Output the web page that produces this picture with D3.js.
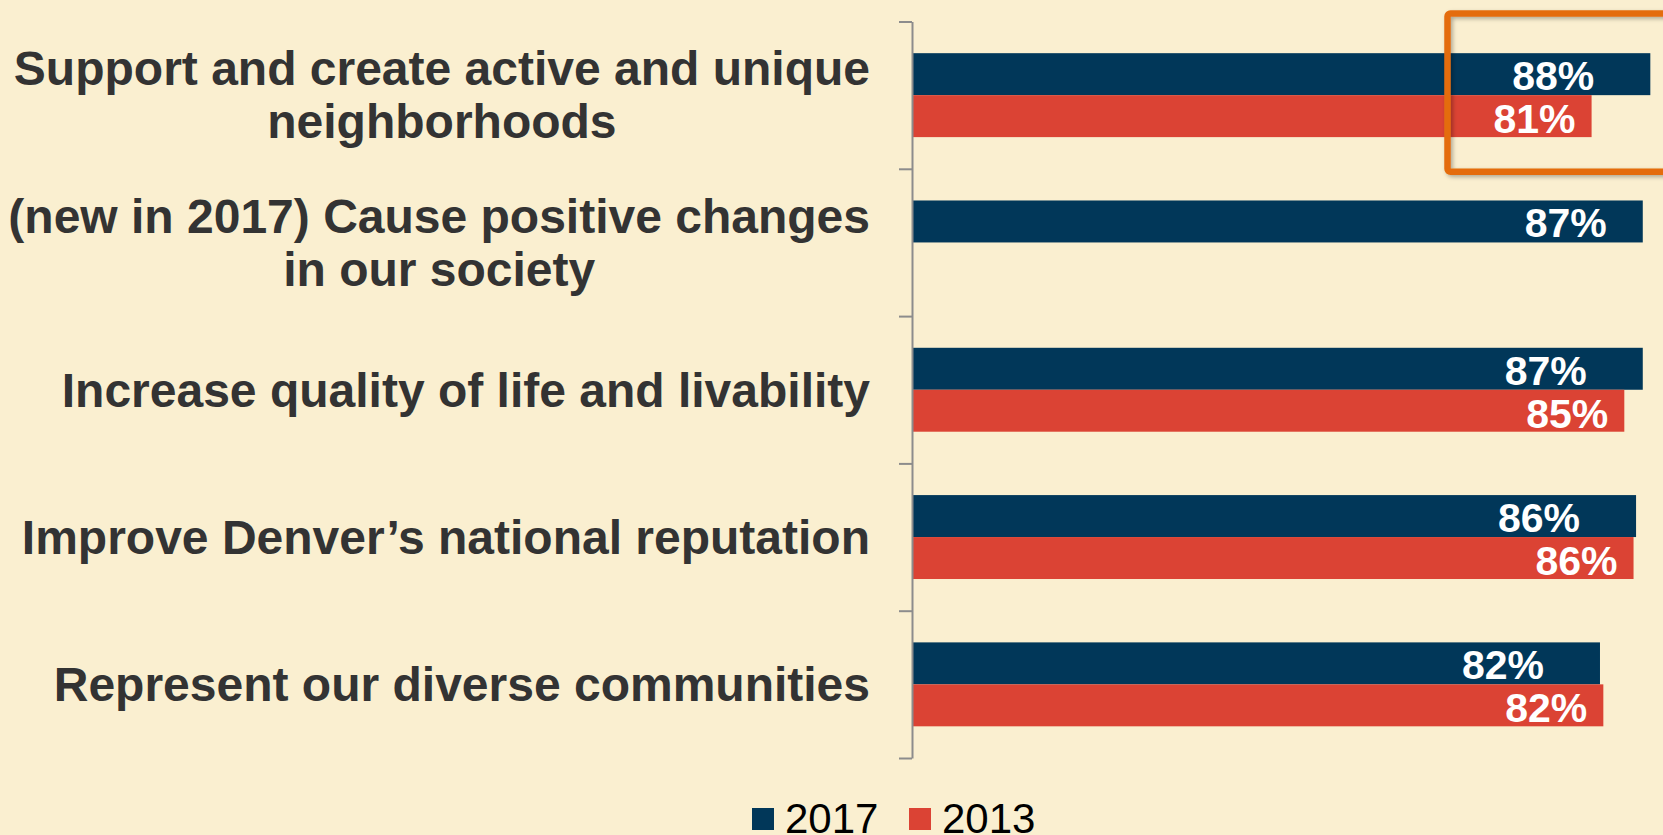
<!DOCTYPE html>
<html>
<head>
<meta charset="utf-8">
<script src="https://cdn.jsdelivr.net/npm/d3@7"></script>
<style>
  html, body { margin: 0; padding: 0; background: #FAEFD0; }
  svg { display: block; font-family: "Liberation Sans", Arial, sans-serif; }
</style>
</head>
<body>
<svg id="chart" width="1663" height="835"></svg>
<script>
// categories, top to bottom; each entry holds the wrapped lines of the label
const categories = [
	["Support and create active and unique", "neighborhoods"],
	["(new in 2017) Cause positive changes", "in our society"],
	["Increase quality of life and livability"],
	["Improve Denver\u2019s national reputation"],
	["Represent our diverse communities"]
];
const seriesNames = ["2017", "2013"];
const values2017 = [88.0, 87.1, 87.1, 86.3, 82.0];
const values2013 = [81.0, null, 84.9, 86.0, 82.4];
const seriesColors = ["#013759", "#DB4334"];

const svg = d3.select("#chart");
const W = 1663, H = 835;
svg.append("rect").attr("width", W).attr("height", H).attr("fill", "#FAEFD0");

const axisX = 912,
	plotTop = 21.5,
	plotBottom = 758;

const x = d3.scaleLinear().domain([0, 100]).range([axisX, axisX + 839]);
const y0 = d3.scaleBand().domain(d3.range(categories.length)).range([plotTop, plotBottom]).padding(0);
const y1 = d3.scaleBand().domain(seriesNames).range([0, y0.bandwidth()]).paddingInner(0).paddingOuter(0.755);

const rows = categories.map((c, i) => ({
	i: i,
	lines: c,
	bars: [values2017[i], values2013[i]].map((v, j) => ({ series: seriesNames[j], value: v, color: seriesColors[j] }))
		.filter(b => b.value !== null)
}));

// bars
const g = svg.append("g");
const groups = g.selectAll("g.row").data(rows).enter().append("g")
	.attr("class", "row")
	.attr("transform", d => "translate(0," + y0(d.i) + ")");

groups.selectAll("rect").data(d => d.bars).enter().append("rect")
	.attr("x", x(0))
	.attr("y", d => y1(d.series))
	.attr("width", d => x(d.value) - x(0))
	.attr("height", y1.bandwidth())
	.attr("fill", d => d.color);

// value labels, white bold inside the bar end
const fmt = v => Math.round(v) + "%";
groups.each(function(row) {
	const single = row.bars.length === 1;
	d3.select(this).selectAll("text.val").data(row.bars).enter().append("text")
		.attr("class", "val")
		.attr("x", d => x(d.value) - (d.series === "2013" ? 16 : (single ? 36 : 56)))
		.attr("y", d => y1(d.series) + y1.bandwidth() / 2 + (d.series === "2013" ? 17 : 16))
		.attr("text-anchor", "end")
		.attr("fill", "#fff")
		.attr("font-weight", "bold")
		.attr("font-size", 41)
		.text(d => fmt(d.value));
});

// category axis, ticks at the band edges
const yEdges = d3.scaleLinear().domain([0, categories.length]).range([plotTop, plotBottom]);
const axis = svg.append("g")
	.attr("transform", "translate(" + axisX + ",0)")
	.call(d3.axisLeft(yEdges).ticks(categories.length).tickFormat("").tickSize(13).tickSizeOuter(0));
axis.select(".domain").attr("stroke", "#8c8c8c").attr("stroke-width", 2);
axis.selectAll(".tick line").attr("stroke", "#8c8c8c").attr("stroke-width", 2);

// category labels: wrapped lines centred as a block, block right-aligned
const labelRight = 870, fs = 48, lh = 53;
rows.forEach(row => {
	const t = svg.append("g");
	const n = row.lines.length;
	const cy = y0(row.i) + y0.bandwidth() / 2;
	const texts = row.lines.map((line, k) => t.append("text")
		.attr("y", cy + (k - (n - 1) / 2) * lh + fs * 0.35)
		.attr("font-size", fs)
		.attr("font-weight", "bold")
		.attr("fill", "#333333")
		.attr("text-anchor", "middle")
		.text(line));
	const wMax = d3.max(texts, s => s.node().getComputedTextLength());
	texts.forEach(s => s.attr("x", labelRight - wMax / 2));
});

// highlight box around the first category's values
const defs = svg.append("defs");
const f = defs.append("filter").attr("id", "shadow").attr("x", "-10%").attr("y", "-10%").attr("width", "130%").attr("height", "130%");
f.append("feDropShadow").attr("dx", 2).attr("dy", 2).attr("stdDeviation", 2).attr("flood-color", "#000").attr("flood-opacity", 0.3);
svg.append("rect")
	.attr("x", 1447.5)
	.attr("y", y0(0) - 8)
	.attr("width", 260)
	.attr("height", y0.step() + 11)
	.attr("rx", 3)
	.attr("fill", "none")
	.attr("stroke", "#E46C0A")
	.attr("stroke-width", 6.5)
	.attr("filter", "url(#shadow)");

// legend
const legend = svg.append("g").attr("transform", "translate(752,808)");
const legendX = [0, 157];
seriesNames.forEach((s, j) => {
	const lg = legend.append("g").attr("transform", "translate(" + legendX[j] + ",0)");
	lg.append("rect").attr("width", 22).attr("height", 22).attr("fill", seriesColors[j]);
	lg.append("text").attr("x", 33).attr("y", 25).attr("font-size", 42).attr("fill", "#000").text(s);
});
</script>
</body>
</html>
